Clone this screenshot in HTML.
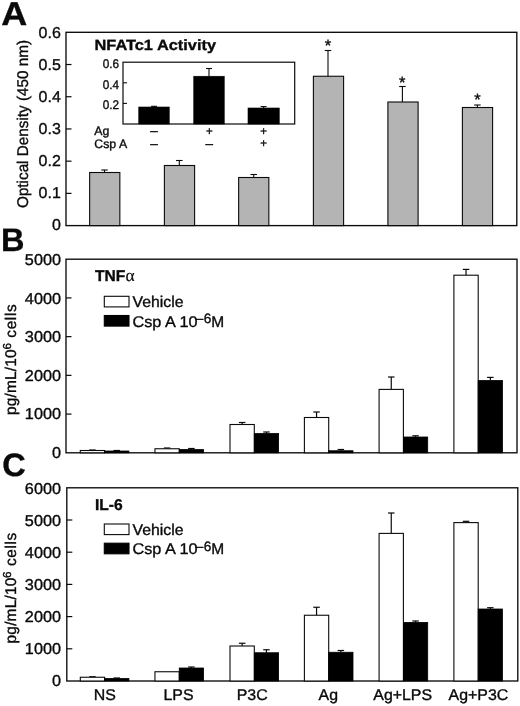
<!DOCTYPE html>
<html><head><meta charset="utf-8"><title>Figure</title>
<style>
html,body{margin:0;padding:0;background:#fff;}
svg{display:block;will-change:transform;}
text{font-family:"Liberation Sans", Arial, Helvetica, sans-serif;fill:#0a0a0a;stroke:#0a0a0a;stroke-width:0.35px;text-rendering:geometricPrecision;}
</style></head><body>
<svg width="520" height="706" viewBox="0 0 520 706">
<rect x="0" y="0" width="520" height="706" fill="#fff"/>
<rect x="66.00" y="32.30" width="450.80" height="193.30" fill="none" stroke="#0a0a0a" stroke-width="1.35"/>
<line x1="66.00" y1="193.38" x2="71.50" y2="193.38" stroke="#0a0a0a" stroke-width="1.2"/>
<line x1="66.00" y1="161.17" x2="71.50" y2="161.17" stroke="#0a0a0a" stroke-width="1.2"/>
<line x1="66.00" y1="128.95" x2="71.50" y2="128.95" stroke="#0a0a0a" stroke-width="1.2"/>
<line x1="66.00" y1="96.73" x2="71.50" y2="96.73" stroke="#0a0a0a" stroke-width="1.2"/>
<line x1="66.00" y1="64.52" x2="71.50" y2="64.52" stroke="#0a0a0a" stroke-width="1.2"/>
<text transform="translate(60.80,229.90) scale(1.02,1)" font-size="15.7" text-anchor="end" font-weight="normal" >0</text>
<text transform="translate(60.80,197.90) scale(1.02,1)" font-size="15.7" text-anchor="end" font-weight="normal" >0.1</text>
<text transform="translate(60.80,165.90) scale(1.02,1)" font-size="15.7" text-anchor="end" font-weight="normal" >0.2</text>
<text transform="translate(60.80,133.90) scale(1.02,1)" font-size="15.7" text-anchor="end" font-weight="normal" >0.3</text>
<text transform="translate(60.80,101.90) scale(1.02,1)" font-size="15.7" text-anchor="end" font-weight="normal" >0.4</text>
<text transform="translate(60.80,69.90) scale(1.02,1)" font-size="15.7" text-anchor="end" font-weight="normal" >0.5</text>
<text transform="translate(60.80,37.90) scale(1.02,1)" font-size="15.7" text-anchor="end" font-weight="normal" >0.6</text>
<line x1="104.50" y1="170.00" x2="104.50" y2="172.50" stroke="#0a0a0a" stroke-width="1.1"/>
<line x1="101.25" y1="170.00" x2="107.75" y2="170.00" stroke="#0a0a0a" stroke-width="1.1"/>
<rect x="89.65" y="172.50" width="30.20" height="53.10" fill="#b4b4b4" stroke="#0a0a0a" stroke-width="1.1"/>
<line x1="179.30" y1="160.50" x2="179.30" y2="165.50" stroke="#0a0a0a" stroke-width="1.1"/>
<line x1="176.05" y1="160.50" x2="182.55" y2="160.50" stroke="#0a0a0a" stroke-width="1.1"/>
<rect x="164.40" y="165.50" width="30.20" height="60.10" fill="#b4b4b4" stroke="#0a0a0a" stroke-width="1.1"/>
<line x1="253.70" y1="174.50" x2="253.70" y2="177.50" stroke="#0a0a0a" stroke-width="1.1"/>
<line x1="250.45" y1="174.50" x2="256.95" y2="174.50" stroke="#0a0a0a" stroke-width="1.1"/>
<rect x="238.65" y="177.50" width="30.20" height="48.10" fill="#b4b4b4" stroke="#0a0a0a" stroke-width="1.1"/>
<line x1="328.00" y1="50.50" x2="328.00" y2="76.25" stroke="#0a0a0a" stroke-width="1.1"/>
<line x1="324.75" y1="50.50" x2="331.25" y2="50.50" stroke="#0a0a0a" stroke-width="1.1"/>
<rect x="313.40" y="76.25" width="30.20" height="149.35" fill="#b4b4b4" stroke="#0a0a0a" stroke-width="1.1"/>
<line x1="402.40" y1="86.50" x2="402.40" y2="102.00" stroke="#0a0a0a" stroke-width="1.1"/>
<line x1="399.15" y1="86.50" x2="405.65" y2="86.50" stroke="#0a0a0a" stroke-width="1.1"/>
<rect x="387.90" y="102.00" width="30.20" height="123.60" fill="#b4b4b4" stroke="#0a0a0a" stroke-width="1.1"/>
<line x1="477.40" y1="105.00" x2="477.40" y2="107.50" stroke="#0a0a0a" stroke-width="1.1"/>
<line x1="474.15" y1="105.00" x2="480.65" y2="105.00" stroke="#0a0a0a" stroke-width="1.1"/>
<rect x="462.40" y="107.50" width="30.20" height="118.10" fill="#b4b4b4" stroke="#0a0a0a" stroke-width="1.1"/>
<text transform="translate(328.00,51.00) scale(1.0,1)" font-size="16.5" text-anchor="middle" font-weight="normal" >*</text>
<text transform="translate(402.20,87.50) scale(1.0,1)" font-size="16.5" text-anchor="middle" font-weight="normal" >*</text>
<text transform="translate(477.40,105.30) scale(1.0,1)" font-size="16.5" text-anchor="middle" font-weight="normal" >*</text>
<text transform="translate(27.5,124) rotate(-90)" font-size="15.5" text-anchor="middle" textLength="168" lengthAdjust="spacingAndGlyphs">Optical Density (450 nm)</text>
<text transform="translate(1.30,25.40) scale(1.09,1)" font-size="33" text-anchor="start" font-weight="bold" stroke-width="0.1" >A</text>
<text transform="translate(94.50,50.40) scale(1.0,1)" font-size="14.8" text-anchor="start" font-weight="bold" stroke-width="0.1" textLength="121.5" lengthAdjust="spacingAndGlyphs" >NFATc1 Activity</text>
<rect x="123.00" y="62.20" width="171.70" height="61.80" fill="#fff" stroke="#0a0a0a" stroke-width="1.2"/>
<line x1="123.00" y1="103.40" x2="127.00" y2="103.40" stroke="#0a0a0a" stroke-width="1.1"/>
<text transform="translate(119.00,109.10) scale(0.94,1)" font-size="12.5" text-anchor="end" font-weight="normal" >0.2</text>
<line x1="123.00" y1="82.80" x2="127.00" y2="82.80" stroke="#0a0a0a" stroke-width="1.1"/>
<text transform="translate(119.00,88.50) scale(0.94,1)" font-size="12.5" text-anchor="end" font-weight="normal" >0.4</text>
<text transform="translate(119.00,67.90) scale(0.94,1)" font-size="12.5" text-anchor="end" font-weight="normal" >0.6</text>
<line x1="154.00" y1="106.30" x2="154.00" y2="107.00" stroke="#0a0a0a" stroke-width="1.1"/>
<line x1="151.00" y1="106.30" x2="157.00" y2="106.30" stroke="#0a0a0a" stroke-width="1.1"/>
<rect x="138.75" y="107.00" width="30.50" height="17.00" fill="#000" stroke="#000" stroke-width="0.6"/>
<line x1="209.00" y1="68.50" x2="209.00" y2="76.25" stroke="#0a0a0a" stroke-width="1.1"/>
<line x1="206.00" y1="68.50" x2="212.00" y2="68.50" stroke="#0a0a0a" stroke-width="1.1"/>
<rect x="193.75" y="76.25" width="30.50" height="47.75" fill="#000" stroke="#000" stroke-width="0.6"/>
<line x1="263.62" y1="106.60" x2="263.62" y2="108.00" stroke="#0a0a0a" stroke-width="1.1"/>
<line x1="260.62" y1="106.60" x2="266.62" y2="106.60" stroke="#0a0a0a" stroke-width="1.1"/>
<rect x="248.00" y="108.00" width="31.25" height="16.00" fill="#000" stroke="#000" stroke-width="0.6"/>
<text transform="translate(94.30,135.20) scale(1.0,1)" font-size="12.3" text-anchor="start" font-weight="normal" >Ag</text>
<text transform="translate(94.30,147.60) scale(1.0,1)" font-size="12.3" text-anchor="start" font-weight="normal" >Csp A</text>
<text transform="translate(154.00,135.30) scale(1.0,1)" font-size="13.5" text-anchor="middle" font-weight="normal" >–</text>
<text transform="translate(209.30,135.00) scale(1.0,1)" font-size="11.5" text-anchor="middle" font-weight="normal" stroke-width="0.7">+</text>
<text transform="translate(263.70,135.00) scale(1.0,1)" font-size="11.5" text-anchor="middle" font-weight="normal" stroke-width="0.7">+</text>
<text transform="translate(154.00,147.50) scale(1.0,1)" font-size="13.5" text-anchor="middle" font-weight="normal" >–</text>
<text transform="translate(209.30,147.50) scale(1.0,1)" font-size="13.5" text-anchor="middle" font-weight="normal" >–</text>
<text transform="translate(263.70,147.10) scale(1.0,1)" font-size="11.5" text-anchor="middle" font-weight="normal" stroke-width="0.7">+</text>
<rect x="66.00" y="259.20" width="451.00" height="193.60" fill="none" stroke="#0a0a0a" stroke-width="1.35"/>
<line x1="66.00" y1="414.08" x2="71.50" y2="414.08" stroke="#0a0a0a" stroke-width="1.2"/>
<line x1="66.00" y1="375.36" x2="71.50" y2="375.36" stroke="#0a0a0a" stroke-width="1.2"/>
<line x1="66.00" y1="336.64" x2="71.50" y2="336.64" stroke="#0a0a0a" stroke-width="1.2"/>
<line x1="66.00" y1="297.92" x2="71.50" y2="297.92" stroke="#0a0a0a" stroke-width="1.2"/>
<text transform="translate(61.00,457.80) scale(1.035,1)" font-size="15.7" text-anchor="end" font-weight="normal" >0</text>
<text transform="translate(61.00,419.26) scale(1.035,1)" font-size="15.7" text-anchor="end" font-weight="normal" >1000</text>
<text transform="translate(61.00,380.72) scale(1.035,1)" font-size="15.7" text-anchor="end" font-weight="normal" >2000</text>
<text transform="translate(61.00,342.18) scale(1.035,1)" font-size="15.7" text-anchor="end" font-weight="normal" >3000</text>
<text transform="translate(61.00,303.64) scale(1.035,1)" font-size="15.7" text-anchor="end" font-weight="normal" >4000</text>
<text transform="translate(61.00,265.10) scale(1.035,1)" font-size="15.7" text-anchor="end" font-weight="normal" >5000</text>
<line x1="92.45" y1="450.00" x2="92.45" y2="450.50" stroke="#0a0a0a" stroke-width="1.2"/>
<line x1="89.20" y1="450.00" x2="95.70" y2="450.00" stroke="#0a0a0a" stroke-width="1.2"/>
<line x1="116.75" y1="450.50" x2="116.75" y2="451.00" stroke="#0a0a0a" stroke-width="1.2"/>
<line x1="113.50" y1="450.50" x2="120.00" y2="450.50" stroke="#0a0a0a" stroke-width="1.2"/>
<rect x="80.30" y="450.50" width="24.30" height="2.30" fill="#fff" stroke="#0a0a0a" stroke-width="1.1"/>
<rect x="104.60" y="451.00" width="24.30" height="1.80" fill="#000" stroke="#000" stroke-width="0.8"/>
<line x1="167.10" y1="448.00" x2="167.10" y2="448.75" stroke="#0a0a0a" stroke-width="1.2"/>
<line x1="163.85" y1="448.00" x2="170.35" y2="448.00" stroke="#0a0a0a" stroke-width="1.2"/>
<line x1="191.40" y1="448.50" x2="191.40" y2="449.50" stroke="#0a0a0a" stroke-width="1.2"/>
<line x1="188.15" y1="448.50" x2="194.65" y2="448.50" stroke="#0a0a0a" stroke-width="1.2"/>
<rect x="154.95" y="448.75" width="24.30" height="4.05" fill="#fff" stroke="#0a0a0a" stroke-width="1.1"/>
<rect x="179.25" y="449.50" width="24.30" height="3.30" fill="#000" stroke="#000" stroke-width="0.8"/>
<line x1="242.15" y1="422.50" x2="242.15" y2="424.50" stroke="#0a0a0a" stroke-width="1.2"/>
<line x1="238.90" y1="422.50" x2="245.40" y2="422.50" stroke="#0a0a0a" stroke-width="1.2"/>
<line x1="266.45" y1="432.00" x2="266.45" y2="433.50" stroke="#0a0a0a" stroke-width="1.2"/>
<line x1="263.20" y1="432.00" x2="269.70" y2="432.00" stroke="#0a0a0a" stroke-width="1.2"/>
<rect x="230.00" y="424.50" width="24.30" height="28.30" fill="#fff" stroke="#0a0a0a" stroke-width="1.1"/>
<rect x="254.30" y="433.50" width="24.30" height="19.30" fill="#000" stroke="#000" stroke-width="0.8"/>
<line x1="316.55" y1="412.00" x2="316.55" y2="417.50" stroke="#0a0a0a" stroke-width="1.2"/>
<line x1="313.30" y1="412.00" x2="319.80" y2="412.00" stroke="#0a0a0a" stroke-width="1.2"/>
<line x1="340.85" y1="449.50" x2="340.85" y2="450.75" stroke="#0a0a0a" stroke-width="1.2"/>
<line x1="337.60" y1="449.50" x2="344.10" y2="449.50" stroke="#0a0a0a" stroke-width="1.2"/>
<rect x="304.40" y="417.50" width="24.30" height="35.30" fill="#fff" stroke="#0a0a0a" stroke-width="1.1"/>
<rect x="328.70" y="450.75" width="24.30" height="2.05" fill="#000" stroke="#000" stroke-width="0.8"/>
<line x1="391.25" y1="377.00" x2="391.25" y2="389.40" stroke="#0a0a0a" stroke-width="1.2"/>
<line x1="388.00" y1="377.00" x2="394.50" y2="377.00" stroke="#0a0a0a" stroke-width="1.2"/>
<line x1="415.55" y1="435.80" x2="415.55" y2="437.00" stroke="#0a0a0a" stroke-width="1.2"/>
<line x1="412.30" y1="435.80" x2="418.80" y2="435.80" stroke="#0a0a0a" stroke-width="1.2"/>
<rect x="379.10" y="389.40" width="24.30" height="63.40" fill="#fff" stroke="#0a0a0a" stroke-width="1.1"/>
<rect x="403.40" y="437.00" width="24.30" height="15.80" fill="#000" stroke="#000" stroke-width="0.8"/>
<line x1="466.05" y1="269.40" x2="466.05" y2="275.20" stroke="#0a0a0a" stroke-width="1.2"/>
<line x1="462.80" y1="269.40" x2="469.30" y2="269.40" stroke="#0a0a0a" stroke-width="1.2"/>
<line x1="490.35" y1="377.40" x2="490.35" y2="380.50" stroke="#0a0a0a" stroke-width="1.2"/>
<line x1="487.10" y1="377.40" x2="493.60" y2="377.40" stroke="#0a0a0a" stroke-width="1.2"/>
<rect x="453.90" y="275.20" width="24.30" height="177.60" fill="#fff" stroke="#0a0a0a" stroke-width="1.1"/>
<rect x="478.20" y="380.50" width="24.30" height="72.30" fill="#000" stroke="#000" stroke-width="0.8"/>
<text transform="translate(1.10,251.00) scale(1.0,1)" font-size="32.5" text-anchor="start" font-weight="bold" stroke-width="0.1" >B</text>
<text transform="translate(95.00,280.70) scale(1.0,1)" font-size="15.6" text-anchor="start" font-weight="bold" stroke-width="0.1" >TNF<tspan font-weight="normal" font-family="Liberation Serif, DejaVu Serif, serif" font-size="17.5" stroke-width="0.15" dx="0.3">α</tspan></text>
<rect x="104.30" y="296.30" width="24.70" height="10.60" fill="#fff" stroke="#0a0a0a" stroke-width="1.1"/>
<rect x="104.30" y="315.50" width="24.70" height="10.60" fill="#000" stroke="#000" stroke-width="1.1"/>
<text transform="translate(132.50,306.90) scale(1.0,1)" font-size="15.5" text-anchor="start" font-weight="normal" textLength="51" lengthAdjust="spacingAndGlyphs" >Vehicle</text>
<text transform="translate(132.5,326.70)" font-size="15.5"><tspan textLength="65" lengthAdjust="spacingAndGlyphs">Csp A 10</tspan><tspan x="62.9" dy="-3.9" font-size="14">–</tspan><tspan x="71.3" dy="0.5" font-size="13.6">6</tspan><tspan x="78.8" dy="3.4">M</tspan></text>
<text transform="translate(15.8,415.0) rotate(-90)" font-size="15.5"><tspan letter-spacing="0.15">pg/mL/10</tspan><tspan font-size="11.6" dy="-5.0" dx="-0.3">6</tspan><tspan dy="5.0" dx="0.4" letter-spacing="0.6"> cells</tspan></text>
<rect x="66.80" y="487.80" width="451.00" height="193.20" fill="none" stroke="#0a0a0a" stroke-width="1.35"/>
<line x1="66.80" y1="648.80" x2="72.30" y2="648.80" stroke="#0a0a0a" stroke-width="1.2"/>
<line x1="66.80" y1="616.60" x2="72.30" y2="616.60" stroke="#0a0a0a" stroke-width="1.2"/>
<line x1="66.80" y1="584.40" x2="72.30" y2="584.40" stroke="#0a0a0a" stroke-width="1.2"/>
<line x1="66.80" y1="552.20" x2="72.30" y2="552.20" stroke="#0a0a0a" stroke-width="1.2"/>
<line x1="66.80" y1="520.00" x2="72.30" y2="520.00" stroke="#0a0a0a" stroke-width="1.2"/>
<text transform="translate(61.00,685.90) scale(1.035,1)" font-size="15.7" text-anchor="end" font-weight="normal" >0</text>
<text transform="translate(61.00,653.85) scale(1.035,1)" font-size="15.7" text-anchor="end" font-weight="normal" >1000</text>
<text transform="translate(61.00,621.80) scale(1.035,1)" font-size="15.7" text-anchor="end" font-weight="normal" >2000</text>
<text transform="translate(61.00,589.75) scale(1.035,1)" font-size="15.7" text-anchor="end" font-weight="normal" >3000</text>
<text transform="translate(61.00,557.70) scale(1.035,1)" font-size="15.7" text-anchor="end" font-weight="normal" >4000</text>
<text transform="translate(61.00,525.65) scale(1.035,1)" font-size="15.7" text-anchor="end" font-weight="normal" >5000</text>
<text transform="translate(61.00,493.60) scale(1.035,1)" font-size="15.7" text-anchor="end" font-weight="normal" >6000</text>
<line x1="92.45" y1="676.75" x2="92.45" y2="677.25" stroke="#0a0a0a" stroke-width="1.2"/>
<line x1="89.20" y1="676.75" x2="95.70" y2="676.75" stroke="#0a0a0a" stroke-width="1.2"/>
<line x1="116.75" y1="678.00" x2="116.75" y2="678.50" stroke="#0a0a0a" stroke-width="1.2"/>
<line x1="113.50" y1="678.00" x2="120.00" y2="678.00" stroke="#0a0a0a" stroke-width="1.2"/>
<rect x="80.30" y="677.25" width="24.30" height="3.75" fill="#fff" stroke="#0a0a0a" stroke-width="1.1"/>
<rect x="104.60" y="678.50" width="24.30" height="2.50" fill="#000" stroke="#000" stroke-width="0.8"/>
<line x1="191.40" y1="667.00" x2="191.40" y2="668.00" stroke="#0a0a0a" stroke-width="1.2"/>
<line x1="188.15" y1="667.00" x2="194.65" y2="667.00" stroke="#0a0a0a" stroke-width="1.2"/>
<rect x="154.95" y="671.75" width="24.30" height="9.25" fill="#fff" stroke="#0a0a0a" stroke-width="1.1"/>
<rect x="179.25" y="668.00" width="24.30" height="13.00" fill="#000" stroke="#000" stroke-width="0.8"/>
<line x1="242.15" y1="643.25" x2="242.15" y2="646.00" stroke="#0a0a0a" stroke-width="1.2"/>
<line x1="238.90" y1="643.25" x2="245.40" y2="643.25" stroke="#0a0a0a" stroke-width="1.2"/>
<line x1="266.45" y1="649.75" x2="266.45" y2="652.75" stroke="#0a0a0a" stroke-width="1.2"/>
<line x1="263.20" y1="649.75" x2="269.70" y2="649.75" stroke="#0a0a0a" stroke-width="1.2"/>
<rect x="230.00" y="646.00" width="24.30" height="35.00" fill="#fff" stroke="#0a0a0a" stroke-width="1.1"/>
<rect x="254.30" y="652.75" width="24.30" height="28.25" fill="#000" stroke="#000" stroke-width="0.8"/>
<line x1="316.55" y1="607.25" x2="316.55" y2="615.25" stroke="#0a0a0a" stroke-width="1.2"/>
<line x1="313.30" y1="607.25" x2="319.80" y2="607.25" stroke="#0a0a0a" stroke-width="1.2"/>
<line x1="340.85" y1="650.50" x2="340.85" y2="652.25" stroke="#0a0a0a" stroke-width="1.2"/>
<line x1="337.60" y1="650.50" x2="344.10" y2="650.50" stroke="#0a0a0a" stroke-width="1.2"/>
<rect x="304.40" y="615.25" width="24.30" height="65.75" fill="#fff" stroke="#0a0a0a" stroke-width="1.1"/>
<rect x="328.70" y="652.25" width="24.30" height="28.75" fill="#000" stroke="#000" stroke-width="0.8"/>
<line x1="391.25" y1="513.00" x2="391.25" y2="533.40" stroke="#0a0a0a" stroke-width="1.2"/>
<line x1="388.00" y1="513.00" x2="394.50" y2="513.00" stroke="#0a0a0a" stroke-width="1.2"/>
<line x1="415.55" y1="621.00" x2="415.55" y2="622.40" stroke="#0a0a0a" stroke-width="1.2"/>
<line x1="412.30" y1="621.00" x2="418.80" y2="621.00" stroke="#0a0a0a" stroke-width="1.2"/>
<rect x="379.10" y="533.40" width="24.30" height="147.60" fill="#fff" stroke="#0a0a0a" stroke-width="1.1"/>
<rect x="403.40" y="622.40" width="24.30" height="58.60" fill="#000" stroke="#000" stroke-width="0.8"/>
<line x1="466.05" y1="521.30" x2="466.05" y2="522.60" stroke="#0a0a0a" stroke-width="1.2"/>
<line x1="462.80" y1="521.30" x2="469.30" y2="521.30" stroke="#0a0a0a" stroke-width="1.2"/>
<line x1="490.35" y1="607.70" x2="490.35" y2="609.00" stroke="#0a0a0a" stroke-width="1.2"/>
<line x1="487.10" y1="607.70" x2="493.60" y2="607.70" stroke="#0a0a0a" stroke-width="1.2"/>
<rect x="453.90" y="522.60" width="24.30" height="158.40" fill="#fff" stroke="#0a0a0a" stroke-width="1.1"/>
<rect x="478.20" y="609.00" width="24.30" height="72.00" fill="#000" stroke="#000" stroke-width="0.8"/>
<text transform="translate(2.30,476.20) scale(1.0,1)" font-size="32.5" text-anchor="start" font-weight="bold" stroke-width="0.1" >C</text>
<text transform="translate(95.00,509.80) scale(1.0,1)" font-size="15.6" text-anchor="start" font-weight="bold" stroke-width="0.1" >IL-6</text>
<rect x="104.30" y="524.00" width="24.70" height="10.60" fill="#fff" stroke="#0a0a0a" stroke-width="1.1"/>
<rect x="104.30" y="543.20" width="24.70" height="10.60" fill="#000" stroke="#000" stroke-width="1.1"/>
<text transform="translate(132.50,534.60) scale(1.0,1)" font-size="15.5" text-anchor="start" font-weight="normal" textLength="51" lengthAdjust="spacingAndGlyphs" >Vehicle</text>
<text transform="translate(132.5,554.40)" font-size="15.5"><tspan textLength="65" lengthAdjust="spacingAndGlyphs">Csp A 10</tspan><tspan x="62.9" dy="-3.9" font-size="14">–</tspan><tspan x="71.3" dy="0.5" font-size="13.6">6</tspan><tspan x="78.8" dy="3.4">M</tspan></text>
<text transform="translate(15.8,643.4) rotate(-90)" font-size="15.5"><tspan letter-spacing="0.15">pg/mL/10</tspan><tspan font-size="11.6" dy="-5.0" dx="-0.3">6</tspan><tspan dy="5.0" dx="0.4" letter-spacing="0.6"> cells</tspan></text>
<text transform="translate(104.90,700.20) scale(1.025,1)" font-size="15.5" text-anchor="middle" font-weight="normal" >NS</text>
<text transform="translate(178.50,700.20) scale(1.025,1)" font-size="15.5" text-anchor="middle" font-weight="normal" >LPS</text>
<text transform="translate(252.20,700.20) scale(1.025,1)" font-size="15.5" text-anchor="middle" font-weight="normal" >P3C</text>
<text transform="translate(328.25,700.20) scale(1.025,1)" font-size="15.5" text-anchor="middle" font-weight="normal" >Ag</text>
<text transform="translate(402.70,700.20) scale(1.025,1)" font-size="15.5" text-anchor="middle" font-weight="normal" >Ag+LPS</text>
<text transform="translate(478.40,700.20) scale(1.025,1)" font-size="15.5" text-anchor="middle" font-weight="normal" >Ag+P3C</text>
</svg>
</body></html>
